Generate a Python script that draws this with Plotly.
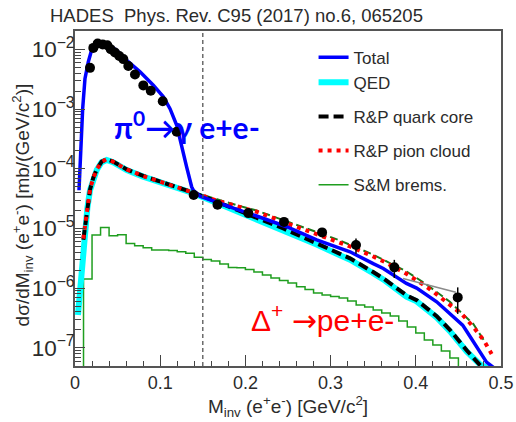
import plotly.graph_objects as go

# ---- measured dilepton yield (HADES), M_inv in GeV/c^2, dsigma/dM in mb/(GeV/c^2)
data_m = [0.0176, 0.0215, 0.0266, 0.0325, 0.0379, 0.0419, 0.0469, 0.052, 0.0567, 0.0626,
          0.0704, 0.0802, 0.0889, 0.103, 0.1194, 0.1393, 0.1673, 0.2034, 0.2453, 0.29,
          0.3298, 0.3748, 0.4492]
data_y = [4.92e-3, 1.064e-2, 1.26e-2, 1.21e-2, 1.18e-2, 1.01e-2, 8.9e-3, 7.8e-3, 6.9e-3, 5.3e-3,
          3.8e-3, 2.5e-3, 2.03e-3, 1.36e-3, 4.17e-4, 3.63e-5, 2.51e-5, 1.81e-5, 1.29e-5, 8.6e-6,
          5.27e-6, 2.23e-6, 7.0e-7]
data_err = [0, 0, 0, 0, 0, 0, 0, 0, 0, 0,
            0, 0, 0, 0, 0, 0, 0, 0, 0, 1.2e-6,
            1.5e-6, 0.75e-6, 3.3e-7]

# ---- Total (pi0 Dalitz + Delta)
total_m = [0.0047, 0.0067, 0.009, 0.0117, 0.0156, 0.0195, 0.0255, 0.0313, 0.0372, 0.0489,
           0.0607, 0.0763, 0.0919, 0.1037, 0.1115, 0.1194, 0.1251, 0.131, 0.1369, 0.1389,
           0.1467, 0.166, 0.19, 0.2132, 0.2484, 0.2837, 0.3228, 0.35, 0.3618, 0.389,
           0.401, 0.4245, 0.44, 0.455, 0.4597, 0.4754, 0.483, 0.493]
total_y = [4.37e-5, 2.66e-4, 1.02e-3, 3.24e-3, 6.17e-3, 9.77e-3, 1.26e-2, 1.34e-2, 1.26e-2, 9.7e-3,
           6.6e-3, 4.22e-3, 2.52e-3, 1.61e-3, 1.02e-3, 5.37e-4, 2.34e-4, 1.08e-4, 5.0e-5, 4.37e-5,
           3.47e-5, 2.75e-5, 2.09e-5, 1.62e-5, 1.07e-5, 6.46e-6, 4.07e-6, 2.57e-6, 2.14e-6, 1.2e-6,
           1.0e-6, 5.9e-7, 3.72e-7, 2.4e-7, 1.9e-7, 8.5e-8, 5.75e-8, 4.47e-8]

# ---- QED (point-like Delta)
qed_m = [0.0035, 0.0045, 0.006, 0.0079, 0.0098, 0.0117, 0.0145, 0.0176, 0.0215, 0.0255,
         0.0313, 0.0372, 0.0446, 0.0607, 0.08, 0.0998, 0.12, 0.1389, 0.166, 0.19,
         0.2132, 0.2445, 0.2837, 0.311, 0.3228, 0.35, 0.3618, 0.389, 0.401, 0.4245,
         0.44, 0.4597, 0.4754, 0.485]
qed_y = [3.55e-7, 5.25e-7, 1.05e-6, 2.0e-6, 4.27e-6, 9.3e-6, 2.19e-5, 4.37e-5, 6.9e-5, 9.55e-5,
         1.29e-4, 1.41e-4, 1.29e-4, 9.55e-5, 7.4e-5, 6.0e-5, 4.8e-5, 3.9e-5, 2.69e-5, 1.95e-5,
         1.41e-5, 9.5e-6, 5.4e-6, 3.55e-6, 3.0e-6, 1.78e-6, 1.40e-6, 7.2e-7, 6.0e-7, 3.24e-7,
         1.9e-7, 8.7e-8, 5.25e-8, 4.5e-8]

# ---- R&P quark core
core_m = [0.0098, 0.0117, 0.0145, 0.0176, 0.0215, 0.0255, 0.0313, 0.0372, 0.0446, 0.0607,
          0.08, 0.0998, 0.12, 0.1389, 0.166, 0.19, 0.2132, 0.2445, 0.2837, 0.311,
          0.3228, 0.35, 0.3618, 0.389, 0.401, 0.4245, 0.44, 0.4597, 0.4754, 0.479]
core_y = [6.46e-6, 1.05e-5, 2.29e-5, 4.47e-5, 7.08e-5, 9.77e-5, 1.32e-4, 1.445e-4, 1.32e-4, 9.77e-5,
          7.59e-5, 6.17e-5, 4.9e-5, 3.98e-5, 2.82e-5, 2.04e-5, 1.48e-5, 1.0e-5, 5.62e-6, 3.72e-6,
          3.16e-6, 1.86e-6, 1.46e-6, 7.6e-7, 6.3e-7, 3.39e-7, 2.0e-7, 9.1e-8, 5.1e-8, 4.47e-8]

# ---- R&P pion cloud
cloud_m = [0.0098, 0.0117, 0.0145, 0.0176, 0.0215, 0.0255, 0.0313, 0.0372, 0.0446, 0.0607,
           0.08, 0.0998, 0.12, 0.1389, 0.166, 0.19, 0.2132, 0.2523, 0.2837, 0.311,
           0.3228, 0.35, 0.3618, 0.389, 0.4127, 0.428, 0.44, 0.455, 0.4675, 0.48, 0.489]
cloud_y = [6.76e-6, 1.07e-5, 2.34e-5, 4.47e-5, 7.08e-5, 9.77e-5, 1.32e-4, 1.445e-4, 1.32e-4, 9.77e-5,
           7.59e-5, 6.17e-5, 4.9e-5, 3.98e-5, 2.95e-5, 2.34e-5, 1.91e-5, 1.17e-5, 8.1e-6, 5.9e-6,
           5.0e-6, 3.39e-6, 2.82e-6, 1.74e-6, 1.05e-6, 7.2e-7, 5.25e-7, 3.55e-7, 2.24e-7, 1.32e-7, 7.9e-8]

# ---- additional model curve (dark green, not in legend)
extra_m = [0.1389, 0.166, 0.19, 0.2132, 0.2523, 0.2837, 0.311, 0.35, 0.389, 0.4127,
           0.44, 0.4675, 0.482]
extra_y = [4.07e-5, 3.09e-5, 2.45e-5, 2.0e-5, 1.26e-5, 8.7e-6, 6.3e-6, 3.63e-6, 1.91e-6, 1.15e-6,
           5.9e-7, 2.51e-7, 1.2e-7]

# ---- grey model segment at high mass
grey_m = [0.385, 0.447]
grey_y = [1.45e-6, 8.5e-7]

# ---- S&M bremsstrahlung histogram: 0.01 GeV bins from 0.01 to 0.45
brems_lo = 0.01
brems_bw = 0.01
brems_y = [1.42e-6, 7.75e-6, 1.04e-5, 7.55e-6, 7.84e-6, 5.62e-6, 5.13e-6, 4.75e-6, 4.35e-6, 4.35e-6,
           4.26e-6, 4.07e-6, 3.83e-6, 3.28e-6, 3.03e-6, 2.84e-6, 2.53e-6, 2.21e-6, 2.20e-6, 2.06e-6,
           1.86e-6, 1.66e-6, 1.48e-6, 1.34e-6, 1.22e-6, 1.06e-6, 9.5e-7, 8.3e-7, 7.66e-7, 7.23e-7,
           6.82e-7, 6.08e-7, 5.21e-7, 4.82e-7, 4.30e-7, 3.83e-7, 3.41e-7, 2.81e-7, 2.23e-7, 1.77e-7,
           1.35e-7, 1.11e-7, 8.8e-8, 6.75e-8]

pi0_cut = 0.15

# step outline for the histogram (starts and ends below the visible range)
floor = 1e-9
edges = [brems_lo + i * brems_bw for i in range(len(brems_y) + 1)]
step_x = [edges[0]] + edges[:-1] + [edges[-1]]
step_y = [floor] + brems_y + [floor]

FONT = "Arial, Liberation Sans, sans-serif"
TXT = "#2b2b2b"

fig = go.Figure()

fig.add_trace(go.Scatter(x=step_x, y=step_y, mode="lines", line=dict(color="#1f9e1f", width=1.5, shape="hv"),
                         name="S&M brems.", legendgroup="e", legendrank=5))
fig.add_trace(go.Scatter(x=qed_m, y=qed_y, mode="lines", line=dict(color="#00ffff", width=6),
                         name="QED", legendgroup="a", legendrank=2))
fig.add_trace(go.Scatter(x=extra_m, y=extra_y, mode="lines", line=dict(color="#1a7a1a", width=2, dash="8px,4px"),
                         showlegend=False))
fig.add_trace(go.Scatter(x=core_m, y=core_y, mode="lines", line=dict(color="black", width=4, dash="10px,5px"),
                         name="R&P quark core", legendgroup="c", legendrank=3))
fig.add_trace(go.Scatter(x=cloud_m, y=cloud_y, mode="lines", line=dict(color="#ff0000", width=4, dash="4px,5px"),
                         name="R&P pion cloud", legendgroup="d", legendrank=4))
fig.add_trace(go.Scatter(x=total_m, y=total_y, mode="lines", line=dict(color="#0000ff", width=3.5),
                         name="Total", legendgroup="a", legendrank=1))
fig.add_trace(go.Scatter(x=grey_m, y=grey_y, mode="lines", line=dict(color="#8a8a8a", width=1.5),
                         showlegend=False))
fig.add_trace(go.Scatter(x=data_m, y=data_y, mode="markers",
                         marker=dict(color="black", size=10),
                         error_y=dict(type="data", array=data_err, color="black", thickness=1.5, width=0),
                         showlegend=False))

fig.add_vline(x=pi0_cut, line=dict(color="#555555", width=1.3, dash="4px,3px"))

fig.add_annotation(xref="paper", yref="paper", x=-0.063, y=1.0, yshift=16, xanchor="left", yanchor="middle",
                   text="HADES\u00a0\u00a0Phys. Rev. C95 (2017) no.6, 065205", showarrow=False,
                   font=dict(family=FONT, size=18.5, color=TXT))
fig.add_annotation(xref="paper", yref="paper", x=0.263, y=0.719, xanchor="center", yanchor="middle",
                   text="<b>\u03c0<sup>0</sup>\u2192\u03b3 e+e-</b>", showarrow=False,
                   font=dict(family="Lato, sans-serif", size=30, color="#0000ff"))
fig.add_annotation(xref="paper", yref="paper", x=0.581, y=0.143, xanchor="center", yanchor="middle",
                   text="\u0394<sup>+</sup> <span style=\"font-family:DejaVu Sans\">\u2192</span>pe+e-",
                   showarrow=False,
                   font=dict(family=FONT, size=30, color="#ff0000"))
# y-axis title, placed explicitly left of the tick labels
fig.add_annotation(xref="paper", yref="paper", x=-0.124, y=0.48, xanchor="center", yanchor="middle",
                   textangle=-90, showarrow=False,
                   text="d\u03c3/dM<sub>inv</sub> (e<sup>+</sup>e<sup>-</sup>) [mb/(GeV/c<sup>2</sup>)]",
                   font=dict(family=FONT, size=19, color=TXT))

fig.update_layout(
    width=516, height=422,
    margin=dict(l=75, r=15, t=31, b=56),
    paper_bgcolor="white", plot_bgcolor="white",
    font=dict(family=FONT, color=TXT),
    legend=dict(x=0.56, y=0.974, xanchor="left", yanchor="top", bgcolor="white",
                font=dict(family=FONT, size=17, color=TXT), tracegroupgap=9, itemwidth=30),
    xaxis=dict(range=[0, 0.5], dtick=0.1, tick0=0, ticks="inside", ticklen=11, tickwidth=1.2, tickcolor="#444",
               minor=dict(dtick=0.02, ticks="inside", ticklen=5, tickcolor="#444"),
               showline=True, mirror=True, linecolor="#555", linewidth=1.5, automargin=False,
               showgrid=False, zeroline=False, tickfont=dict(size=18, color=TXT),
               title=dict(text="M<sub>inv</sub> (e<sup>+</sup>e<sup>-</sup>) [GeV/c<sup>2</sup>]",
                          font=dict(size=19, color=TXT), standoff=6)),
    yaxis=dict(type="log", range=[-7.305, -1.69], dtick=1, exponentformat="power",
               ticks="inside", ticklen=10, tickwidth=1.2, tickcolor="#444",
               minor=dict(dtick="D1", ticks="inside", ticklen=6, tickcolor="#444"),
               showline=True, mirror=True, linecolor="#555", linewidth=1.5, automargin=False,
               ticklabelstandoff=-5,
               showgrid=False, zeroline=False, tickfont=dict(size=18, color=TXT)),
)

fig.write_html("out.html")
